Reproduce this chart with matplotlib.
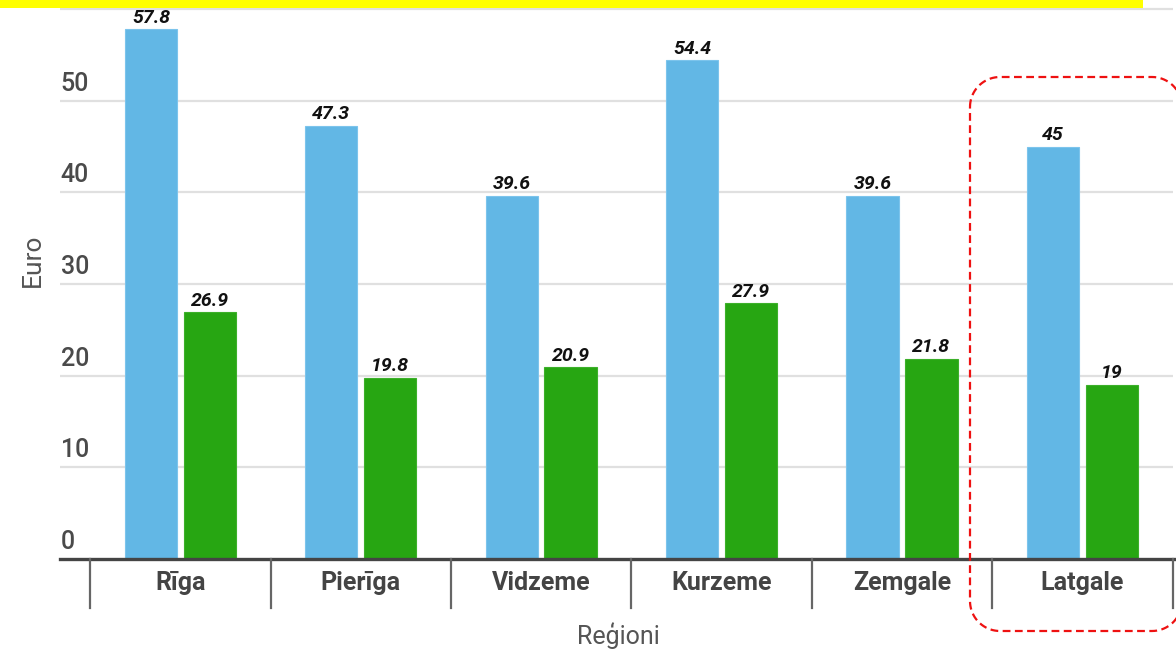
import matplotlib
matplotlib.use("Agg")
import matplotlib.pyplot as plt
from matplotlib.patches import Rectangle
from matplotlib.lines import Line2D
from matplotlib.transforms import IdentityTransform, blended_transform_factory, offset_copy
import numpy as np

regions = ["Rīga", "Pierīga", "Vidzeme", "Kurzeme", "Zemgale", "Latgale"]
series_blue = [57.8, 47.3, 39.6, 54.4, 39.6, 45]
series_green = [26.9, 19.8, 20.9, 27.9, 21.8, 19]
blue_labels = ["57.8", "47.3", "39.6", "54.4", "39.6", "45"]
green_labels = ["26.9", "19.8", "20.9", "27.9", "21.8", "19"]
yticks = [0, 10, 20, 30, 40, 50]
gridvals = [10, 20, 30, 40, 50, 60]

plt.rcParams['font.family'] = ['Roboto', 'DejaVu Sans']

W, H = 1176, 649
fig = plt.figure(figsize=(W / 100, H / 100), dpi=100)
ax = fig.add_axes([60 / W, (H - 559) / H, (W - 60) / W, 559 / H])

x = np.arange(len(regions))
bw = 0.29
off = 0.163
blue_c = "#62b7e5"
green_c = "#27a612"
ax.bar(x - off, series_blue, bw, color=blue_c, edgecolor="#7cc4ec", linewidth=0.8, zorder=3)
ax.bar(x + off, series_green, bw, color=green_c, edgecolor="#3cb02a", linewidth=0.8, zorder=3)

for xi, v, t in zip(x, series_blue, blue_labels):
    ax.annotate(t, (xi - off, v), xytext=(0, 2), textcoords="offset points",
                ha="center", va="bottom", fontsize=14, fontweight="bold",
                fontstyle="italic", color="#111111", zorder=5)
for xi, v, t in zip(x, series_green, green_labels):
    ax.annotate(t, (xi + off, v), xytext=(0, 2), textcoords="offset points",
                ha="center", va="bottom", fontsize=14, fontweight="bold",
                fontstyle="italic", color="#111111", zorder=5)

ax.set_xlim(-0.667, 5.519)
ax.set_ylim(0, 61)

# gridlines (end at last separator)
for g in gridvals:
    ax.plot([-0.667, 5.5], [g, g], color="#e0e0e0", linewidth=1.6, zorder=1,
            clip_on=False, solid_capstyle="butt")

for s in ["top", "right", "left", "bottom"]:
    ax.spines[s].set_visible(False)
ax.axhline(0, color="#444444", linewidth=2.4, zorder=4, clip_on=False)

ax.set_xticks([])
ax.set_yticks([])

# y tick labels above gridlines
tr = blended_transform_factory(ax.transAxes, ax.transData)
tr_up = offset_copy(tr, fig=fig, x=0, y=5, units="dots")
for t in yticks:
    ax.text(0.0005, t, str(t), transform=tr_up, ha="left", va="bottom",
            fontsize=18, fontweight="medium", color="#4a4a4a")

# separator ticks
for sx in np.arange(-0.5, len(regions), 1.0):
    ax.plot([sx, sx], [0, -5.3], color="#666666", linewidth=1.6, clip_on=False, zorder=4)

for xi, r in zip(x, regions):
    ax.text(xi, -2.6, r, ha="center", va="center", fontsize=18,
            fontweight="bold", color="#444444")

fig.text(33 / W, 1 - 260 / H, "Euro", rotation=90, ha="center", va="center",
         fontsize=19, color="#555555")
fig.text(618 / W, 1 - 636 / H, "Reģioni", ha="center", va="center",
         fontsize=18, color="#555555")

# yellow bar at top
fig.add_artist(Rectangle((0, H - 8), 1143, 10, transform=IdentityTransform(),
                         facecolor="#ffff00", edgecolor="none", zorder=10))

# red dashed rounded rectangle (display pixels, y measured from top)
L, R, T, B, r = 970, 1182, 77, 631, 30
def arc(cx, cy, a0, a1, n=20):
    a = np.linspace(np.radians(a0), np.radians(a1), n)
    return cx + r * np.cos(a), cy + r * np.sin(a)
xs, ys = [], []
# top edge left->right (screen coords, y down)
for seg in [arc(L + r, T + r, 180, 270), arc(R - r, T + r, 270, 360),
            arc(R - r, B - r, 0, 90), arc(L + r, B - r, 90, 180)]:
    xs.extend(seg[0]); ys.extend(seg[1])
xs.append(xs[0]); ys.append(ys[0])
ys = [H - v for v in ys]
fig.add_artist(Line2D(xs, ys, transform=IdentityTransform(), color="#ee1111",
                      linewidth=1.6, linestyle=(0, (3.5, 2)), zorder=10))

fig.savefig("out.png", dpi=100)
